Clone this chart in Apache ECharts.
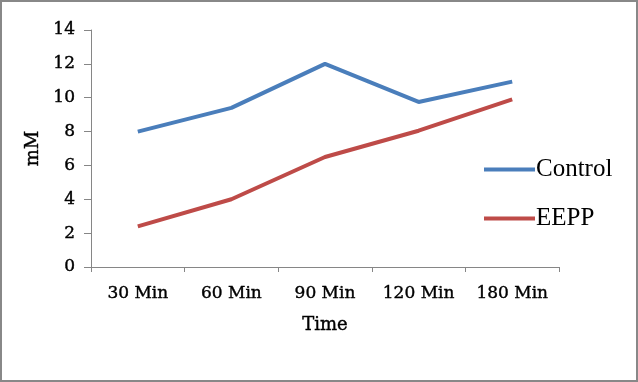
<!DOCTYPE html>
<html><head><meta charset="utf-8">
<script src="https://cdn.jsdelivr.net/npm/echarts@6/dist/echarts.min.js"></script>
<style>html,body{margin:0;padding:0;background:#fff}#c{width:638px;height:382px;box-sizing:border-box;border:2px solid #888;}</style>
</head><body><div id="c"></div>
<script>
const categories = ['30 Min','60 Min','90 Min','120 Min','180 Min'];
const controlValues = [8.0, 9.4, 12.0, 9.75, 10.95];
const eeppValues = [2.4, 4.0, 6.5, 8.05, 9.9];
const yTicks = {min:0, max:14, interval:2};
const chart = echarts.init(document.getElementById('c'));
const tfont = "'DejaVu Serif',serif";
const lfont = "'Liberation Serif','Times New Roman',serif";
const heavy = {textBorderColor:'#000', textBorderWidth:0.4};
chart.setOption({
  animation:false,
  grid:{left:89, right:77, top:28, bottom:113},
  legend:{orient:'vertical', left:477, top:150, itemGap:24, itemWidth:51, itemHeight:4, icon:'rect',
    textStyle:{fontFamily:lfont, fontSize:25, color:'#000', padding:[0,0,0,-4]},
    data:['Control','EEPP']},
  xAxis:{type:'category', data:categories, boundaryGap:true,
    name:'Time', nameLocation:'middle', nameGap:49, nameTextStyle:Object.assign({fontFamily:tfont, fontSize:18, color:'#000'}, heavy),
    axisLine:{lineStyle:{color:'#868686', width:1}},
    axisTick:{show:true, length:5, inside:false, lineStyle:{color:'#868686'}},
    axisLabel:Object.assign({fontFamily:tfont, fontSize:17, color:'#000', margin:18}, heavy)},
  yAxis:{type:'value', min:yTicks.min, max:yTicks.max, interval:yTicks.interval,
    name:'mM', nameLocation:'middle', nameGap:45, nameTextStyle:Object.assign({fontFamily:tfont, fontSize:18, color:'#000'}, heavy),
    splitLine:{show:false},
    axisLine:{show:true, lineStyle:{color:'#868686', width:1}},
    axisTick:{show:true, length:7, lineStyle:{color:'#868686'}},
    axisLabel:Object.assign({fontFamily:tfont, fontSize:17, color:'#000', margin:16}, heavy)},
  series:[
    {name:'Control', type:'line', data:controlValues, showSymbol:false, symbol:'none',
      lineStyle:{color:'#4A7EBB', width:4}, itemStyle:{color:'#4A7EBB'}},
    {name:'EEPP', type:'line', data:eeppValues, showSymbol:false, symbol:'none',
      lineStyle:{color:'#BE4B48', width:4}, itemStyle:{color:'#BE4B48'}}
  ]
});
</script></body></html>
